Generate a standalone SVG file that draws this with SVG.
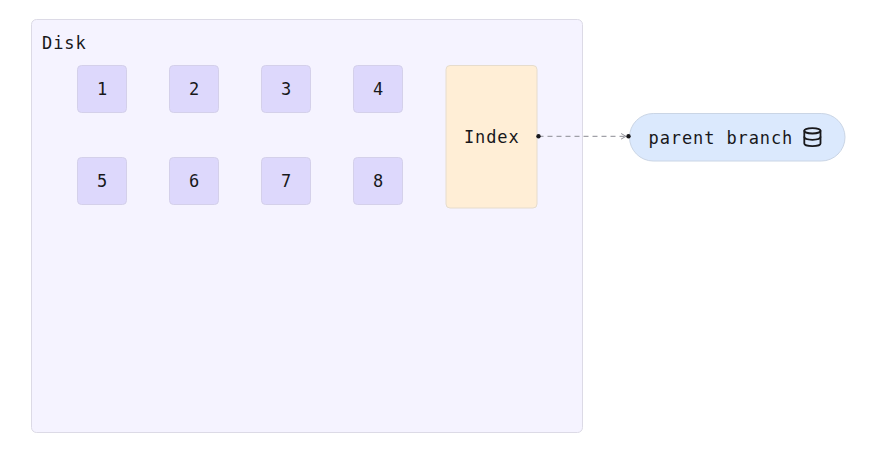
<svg xmlns="http://www.w3.org/2000/svg" width="882" height="450" viewBox="0 0 882 450">
<style>
  text { font-family: "DejaVu Sans Mono", "Liberation Mono", monospace; font-size: 17px; fill: #18181b; letter-spacing: 0.9px; }
  .c { text-anchor: middle; }
  .blk { fill: #ddd8fc; stroke: #d4d0ea; stroke-width: 1; }
  .edge { fill: none; stroke: #8a8a93; stroke-width: 1; stroke-dasharray: 5 4; }
</style>
<defs>
  <marker id="arr" viewBox="0 0 10 10" refX="9" refY="5" markerWidth="7" markerHeight="7" orient="auto" markerUnits="userSpaceOnUse">
    <path d="M2 1 L9 5 L2 9" fill="none" stroke="#8a8a93" stroke-width="1.3"/>
  </marker>
</defs>
<rect width="882" height="450" fill="#ffffff"/>
<g id="disk">
  <rect x="31.5" y="19.5" width="551" height="413" rx="5" fill="#f5f3ff" stroke="#dcdae6"/>
  <text x="42" y="49">Disk</text>
</g>
<g id="b1"><rect class="blk" x="77.5" y="65.5" width="49" height="47" rx="4"/><text class="c" x="102.5" y="95">1</text></g>
<g id="b2"><rect class="blk" x="169.5" y="65.5" width="49" height="47" rx="4"/><text class="c" x="194.5" y="95">2</text></g>
<g id="b3"><rect class="blk" x="261.5" y="65.5" width="49" height="47" rx="4"/><text class="c" x="286.5" y="95">3</text></g>
<g id="b4"><rect class="blk" x="353.5" y="65.5" width="49" height="47" rx="4"/><text class="c" x="378.5" y="95">4</text></g>
<g id="b5"><rect class="blk" x="77.5" y="157.5" width="49" height="47" rx="4"/><text class="c" x="102.5" y="187">5</text></g>
<g id="b6"><rect class="blk" x="169.5" y="157.5" width="49" height="47" rx="4"/><text class="c" x="194.5" y="187">6</text></g>
<g id="b7"><rect class="blk" x="261.5" y="157.5" width="49" height="47" rx="4"/><text class="c" x="286.5" y="187">7</text></g>
<g id="b8"><rect class="blk" x="353.5" y="157.5" width="49" height="47" rx="4"/><text class="c" x="378.5" y="187">8</text></g>
<g id="index">
  <rect x="446" y="65.5" width="91" height="142.5" rx="4" fill="#ffeed6" stroke="#e6dccd"/>
  <text class="c" x="491.8" y="142.8">Index</text>
</g>
<g id="parent">
  <rect x="629.5" y="113.5" width="215.5" height="47.5" rx="23.75" fill="#dbe9fd" stroke="#cad5e5"/>
  <text x="648.5" y="144">parent branch</text>
  <g transform="translate(801.6,126.3) scale(0.9)" fill="none" stroke="#18181b" stroke-width="2" stroke-linecap="round" stroke-linejoin="round">
    <ellipse cx="12" cy="5" rx="9" ry="3"/>
    <path d="M3 5V19A9 3 0 0 0 21 19V5"/>
    <path d="M3 12A9 3 0 0 0 21 12"/>
  </g>
</g>
<g id="connectors">
  <path class="edge" d="M538.5 136.3 L626 136.3" marker-end="url(#arr)"/>
  <circle cx="538.5" cy="136.3" r="2.2" fill="#18181b"/>
  <circle cx="628.5" cy="136.3" r="2.2" fill="#18181b"/>
</g>
</svg>
